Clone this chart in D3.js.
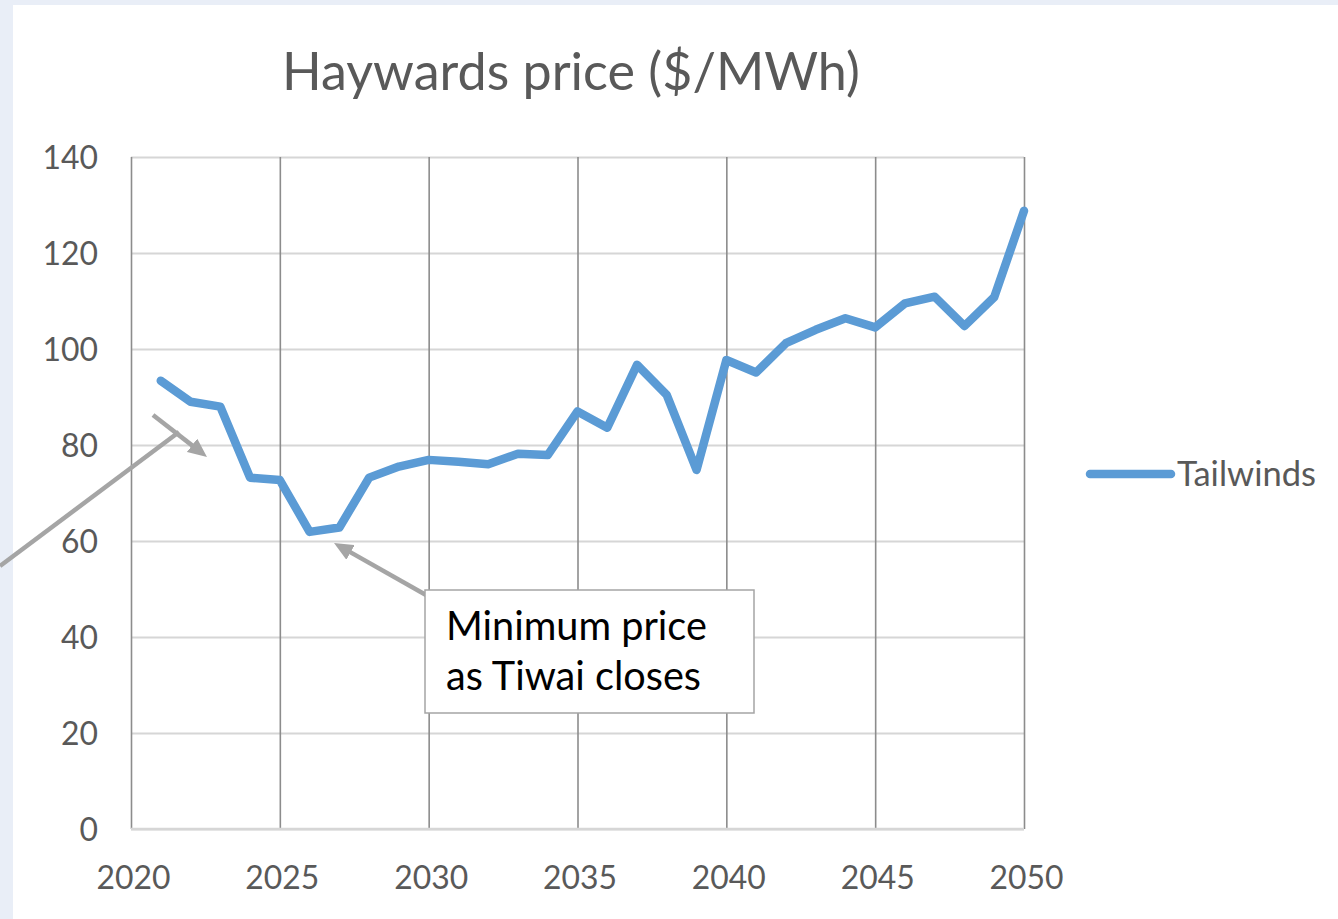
<!DOCTYPE html>
<html>
<head>
<meta charset="utf-8">
<script src="https://cdn.jsdelivr.net/npm/d3@7"></script>
<style>
  html, body { margin: 0; padding: 0; background: #e9eef7; }
  svg { display: block; }
</style>
</head>
<body>
<svg id="chart" width="1338" height="919"></svg>
<script>
// ---- data ----
const years = [2021,2022,2023,2024,2025,2026,2027,2028,2029,2030,2031,2032,2033,2034,2035,2036,2037,2038,2039,2040,2041,2042,2043,2044,2045,2046,2047,2048,2049,2050];
const tailwinds = [93.4,89.0,88.0,73.2,72.7,61.9,62.8,73.2,75.5,76.9,76.5,76.0,78.2,77.9,87.0,83.6,96.7,90.4,74.8,97.7,95.1,101.2,104.0,106.4,104.5,109.5,110.9,104.8,110.8,128.8];
const xTicks = [2020,2025,2030,2035,2040,2045,2050];
const yTicks = [0,20,40,60,80,100,120,140];
const seriesName = "Tailwinds";
const titleText = "Haywards price ($/MWh)";
const noteLines = ["Minimum price", "as Tiwai closes"];

const FONT = "Lato, 'Open Sans', sans-serif";
const svg = d3.select("#chart");

// panel background
svg.append("rect").attr("x", 13).attr("y", 5).attr("width", 1338 - 13).attr("height", 919 - 5).attr("fill", "#ffffff");

const x = d3.scaleLinear().domain([2020, 2050]).range([131, 1024]);
const y = d3.scaleLinear().domain([0, 140]).range([829, 157]);

function fitWidth(sel, target) {
  const w = sel.node().getComputedTextLength();
  const fs = parseFloat(sel.attr("font-size"));
  sel.attr("font-size", fs * target / w);
  return fs * target / w;
}

// horizontal gridlines
svg.append("g").attr("transform", "translate(131,0)")
  .call(d3.axisLeft(y).tickValues(yTicks).tickSize(-(1024 - 131)).tickFormat(""))
  .call(g => g.select(".domain").remove())
  .call(g => g.selectAll(".tick line").attr("stroke", "#d6d6d6").attr("stroke-width", 2.2));

// vertical gridlines
svg.append("g").attr("transform", "translate(0,829)")
  .call(d3.axisBottom(x).tickValues(xTicks).tickSize(-(829 - 157)).tickFormat(""))
  .call(g => g.select(".domain").remove())
  .call(g => g.selectAll(".tick line").attr("stroke", "#8c8c8c").attr("stroke-width", 1.6));

// bottom axis line
svg.append("line").attr("x1", x(2020)).attr("x2", x(2050)).attr("y1", y(0)).attr("y2", y(0))
  .attr("stroke", "#d6d6d6").attr("stroke-width", 2.5);

// measure tick font size
const probe = svg.append("text").attr("font-family", FONT).attr("font-size", 30).text("2020");
const tickFs = fitWidth(probe, 74);
probe.remove();

// y tick labels
const yAx = svg.append("g").attr("transform", "translate(98,0)")
  .call(d3.axisLeft(y).tickValues(yTicks).tickSize(0).tickPadding(0))
  .call(g => g.select(".domain").remove());
yAx.selectAll("text").attr("font-family", FONT).attr("font-size", tickFs).attr("fill", "#595959")
  .attr("dy", "0.35em");

// x tick labels
const xAx = svg.append("g").attr("transform", "translate(2,0)")
  .call(d3.axisBottom(x).tickValues(xTicks).tickSize(0).tickPadding(0).tickFormat(d3.format("d")))
  .call(g => g.select(".domain").remove());
xAx.selectAll("text").attr("font-family", FONT).attr("font-size", tickFs).attr("fill", "#595959")
  .attr("y", 878).attr("dy", "0.35em");

// title
const title = svg.append("text").attr("x", 571).attr("y", 90).attr("text-anchor", "middle")
  .attr("font-family", FONT).attr("font-size", 50).attr("fill", "#595959").text(titleText);
fitWidth(title, 578);

// series line
const line = d3.line().x((d, i) => x(years[i])).y(d => y(d));
svg.append("path").datum(tailwinds).attr("d", line)
  .attr("fill", "none").attr("stroke", "#5b9bd5").attr("stroke-width", 8.5)
  .attr("stroke-linejoin", "round").attr("stroke-linecap", "round");

// legend
svg.append("line").attr("x1", 1090).attr("x2", 1171).attr("y1", 474).attr("y2", 474)
  .attr("stroke", "#5b9bd5").attr("stroke-width", 8.5).attr("stroke-linecap", "round");
const leg = svg.append("text").attr("x", 1177).attr("y", 474).attr("dy", "0.35em")
  .attr("font-family", FONT).attr("font-size", 30).attr("fill", "#595959").text(seriesName);
fitWidth(leg, 139);

// annotations (arrows)
const gray = "#a5a5a5";
const headL = 19, headW = 17, cut = 12;
const defs = svg.append("defs");
defs.append("marker").attr("id", "arr").attr("viewBox", `0 0 ${headL} ${headW}`)
  .attr("refX", headL - cut).attr("refY", headW / 2)
  .attr("markerWidth", headL).attr("markerHeight", headW).attr("orient", "auto")
  .attr("markerUnits", "userSpaceOnUse")
  .append("path").attr("d", `M0,0 L${headL},${headW / 2} L0,${headW} Z`).attr("fill", gray);

function arrow(x1, y1, tx, ty) {
  const dx = tx - x1, dy = ty - y1, L = Math.hypot(dx, dy);
  svg.append("line").attr("x1", x1).attr("y1", y1)
    .attr("x2", tx - dx / L * cut).attr("y2", ty - dy / L * cut)
    .attr("stroke", gray).attr("stroke-width", 4.5).attr("marker-end", "url(#arr)");
}

svg.append("line").attr("x1", 0).attr("y1", 566).attr("x2", 179).attr("y2", 432)
  .attr("stroke", gray).attr("stroke-width", 4.5);
arrow(153, 415, 207, 457);
arrow(426, 595, 334, 543);

// annotation box
svg.append("rect").attr("x", 425).attr("y", 590).attr("width", 329).attr("height", 123)
  .attr("fill", "#ffffff").attr("stroke", "#a5a5a5").attr("stroke-width", 1.5);
const n1 = svg.append("text").attr("x", 446).attr("y", 640)
  .attr("font-family", FONT).attr("font-size", 36).attr("fill", "#000000").text(noteLines[0]);
const noteFs = fitWidth(n1, 261);
svg.append("text").attr("x", 446).attr("y", 690)
  .attr("font-family", FONT).attr("font-size", noteFs).attr("fill", "#000000").text(noteLines[1]);
</script>
</body>
</html>
